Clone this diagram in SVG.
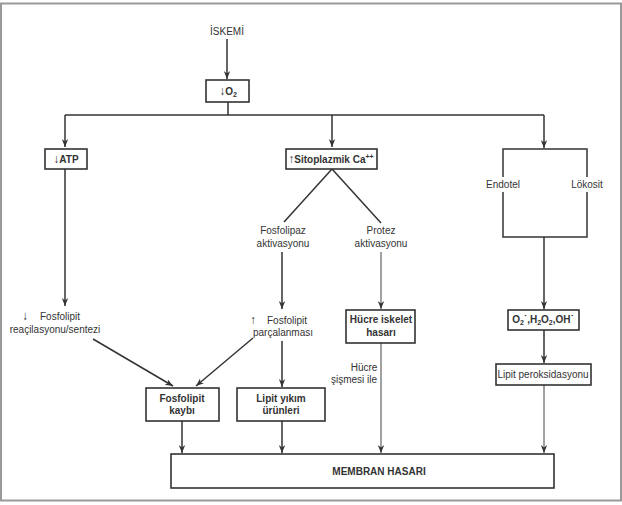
<svg xmlns="http://www.w3.org/2000/svg" width="622" height="505" viewBox="0 0 622 505">
<defs>
<marker id="ah" viewBox="0 0 10 10" refX="10" refY="5" markerWidth="8" markerHeight="8" markerUnits="userSpaceOnUse" orient="auto">
<path d="M0,1 L10,5 L0,9 L3,5 Z" fill="#333"/>
</marker>
</defs>
<style>
text{font-family:"Liberation Sans",Arial,sans-serif;font-size:10px;fill:#333;text-anchor:middle}
.b{font-weight:bold}
.ar{font-size:12px}
.box{fill:#fff;stroke:#333;stroke-width:1.6}
.ln{stroke:#333;stroke-width:1.5;fill:none}
.thin{stroke:#444;stroke-width:1;fill:none}
.arr{marker-end:url(#ah)}
</style>
<rect x="0" y="0" width="622" height="505" fill="#fff"/>
<rect x="1" y="3.5" width="620" height="497" fill="none" stroke="#999" stroke-width="2"/>
<g id="connectors">
<line class="ln arr" x1="227" y1="39" x2="227" y2="79"/>
<polyline class="ln" points="228,102 228,115"/>
<line class="ln" x1="65" y1="115" x2="544" y2="115"/>
<line class="ln arr" x1="65" y1="115" x2="65" y2="147"/>
<line class="ln arr" x1="332" y1="115" x2="332" y2="147"/>
<line class="ln arr" x1="544" y1="115" x2="544" y2="148"/>
<line class="ln arr" x1="65" y1="169" x2="65" y2="306"/>
<line class="ln arr" x1="93" y1="339" x2="173" y2="386"/>
<line class="ln arr" x1="253" y1="338" x2="196" y2="386"/>
<line class="ln arr" x1="182" y1="421" x2="182" y2="453"/>
<line class="ln" x1="332" y1="169" x2="284" y2="222"/>
<line class="ln" x1="332" y1="169" x2="381" y2="223"/>
<line class="ln arr" x1="282" y1="252" x2="282" y2="309"/>
<line class="ln arr" x1="282" y1="341" x2="282" y2="387"/>
<line class="ln arr" x1="282" y1="421" x2="282" y2="453"/>
<line class="thin arr" x1="381" y1="252" x2="381" y2="309"/>
<line class="thin arr" x1="381" y1="343" x2="381" y2="453"/>
<line class="ln arr" x1="544" y1="237" x2="544" y2="309"/>
<line class="ln arr" x1="544" y1="330" x2="544" y2="363"/>
<line class="thin arr" x1="544" y1="385" x2="544" y2="453"/>
</g>
<g id="iskemi"><text x="227" y="35">İSKEMİ</text></g>
<g id="o2"><rect class="box" x="206" y="80" width="43" height="22"/><text class="b" x="228" y="95"><tspan class="ar">↓</tspan>O<tspan font-size="7" dy="2">2</tspan></text></g>
<g id="atp"><rect class="box" x="45" y="149" width="42" height="20"/><text class="b" x="66" y="163"><tspan class="ar">↓</tspan>ATP</text></g>
<g id="sito"><rect class="box" x="286" y="149" width="91" height="20"/><text class="b" x="331" y="163"><tspan class="ar">↑</tspan>Sitoplazmik Ca<tspan font-size="7" dy="-4">++</tspan></text></g>
<g id="endotel-lokosit">
<rect x="503" y="149" width="84" height="88" fill="none" stroke="#333" stroke-width="1.5"/>
<rect x="483" y="177" width="40" height="15" fill="#fff"/>
<rect x="567" y="177" width="40" height="15" fill="#fff"/>
<text x="503" y="188">Endotel</text>
<text x="587" y="188">Lökosit</text>
</g>
<g id="fosfolipaz"><text x="283" y="234">Fosfolipaz</text><text x="283" y="247">aktivasyonu</text></g>
<g id="proteaz"><text x="381" y="234">Protez</text><text x="381" y="247">aktivasyonu</text></g>
<g id="fosfolipit-azalma"><text class="ar" x="25" y="320">↓</text><text x="60" y="320">Fosfolipit</text><text x="55" y="333">reaçilasyonu/sentezi</text></g>
<g id="fosfolipit-artma"><text class="ar" x="253" y="324">↑</text><text x="287" y="324">Fosfolipit</text><text x="283" y="336">parçalanması</text></g>
<g id="hucre-iskelet"><rect class="box" x="346" y="310" width="69" height="33"/><text class="b" x="381" y="323">Hücre iskelet</text><text class="b" x="381" y="336">hasarı</text></g>
<g id="hucre-sismesi"><text x="364" y="371">Hücre</text><text x="354" y="383">şişmesi ile</text></g>
<g id="radikal"><rect class="box" x="508" y="310" width="71" height="20"/><text class="b" x="543" y="323">O<tspan font-size="7" dy="2">2</tspan><tspan dy="-2">˙,H</tspan><tspan font-size="7" dy="2">2</tspan><tspan dy="-2">O</tspan><tspan font-size="7" dy="2">2</tspan><tspan dy="-2">,OH˙</tspan></text></g>
<g id="lipit-peroks"><rect class="box" x="496" y="364" width="95" height="21"/><text x="543" y="378">Lipit peroksidasyonu</text></g>
<g id="fosfolipit-kaybi"><rect class="box" x="146" y="388" width="73" height="33"/><text class="b" x="182" y="402">Fosfolipit</text><text class="b" x="182" y="414">kaybı</text></g>
<g id="lipit-yikim"><rect class="box" x="237" y="388" width="88" height="33"/><text class="b" x="281" y="402">Lipit yıkım</text><text class="b" x="281" y="414">ürünleri</text></g>
<g id="membran"><rect class="box" x="171" y="454" width="383" height="34"/><text class="b" x="379" y="475" font-size="9.5">MEMBRAN HASARI</text></g>
</svg>
